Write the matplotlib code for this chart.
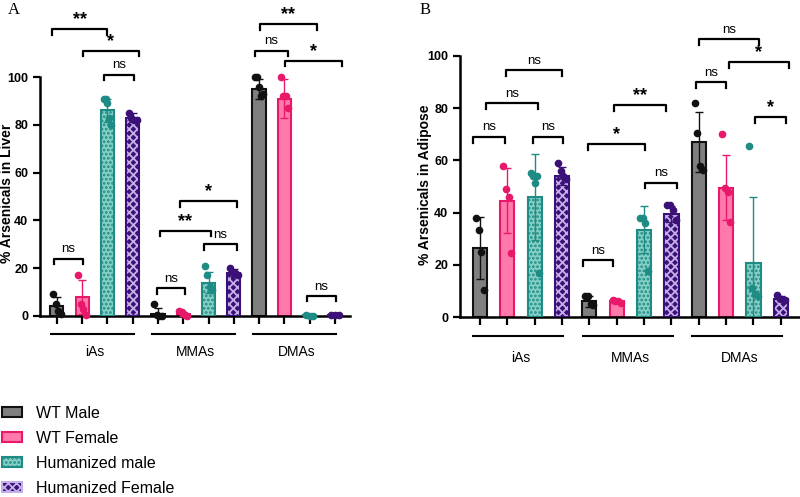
import numpy as np
import matplotlib
matplotlib.use("Agg")
import matplotlib.pyplot as plt
from matplotlib.patches import Patch

plt.rcParams['font.family'] = ['Liberation Sans', 'DejaVu Sans']
plt.rcParams['hatch.linewidth'] = 1.3

groups = ["iAs", "MMAs", "DMAs"]
series = ["WT Male", "WT Female", "Humanized male", "Humanized Female"]

# mean, sd and individual points per bar (group-major order)
liver_mean = [4, 8, 86, 83, 1, 1, 14, 18, 95, 91, 0.3, 0.4]
liver_sd = [4, 7, 5, 2, 2.5, 0.8, 4.5, 1.5, 4, 8, 0.2, 0.3]
liver_pts = [
    [9, 5, 2, 1], [17, 5, 3, 0.5], [91, 91, 89, 83, 80], [85, 83, 82, 82],
    [5, 0.5, 0, 0], [2, 1.5, 0.5, 0], [21, 17, 12, 11], [20, 18, 18, 17],
    [100, 100, 96, 92, 93], [100, 92, 92, 87], [0.3, 0.2, 0.1], [0.6, 0.5, 0.3],
]
adipose_mean = [26.5, 44.5, 46, 54, 6, 6, 33.5, 39.5, 67, 49.5, 20.5, 7]
adipose_sd = [12, 12.5, 16.5, 3.5, 2, 0.6, 9, 3, 11.5, 12.5, 25.5, 1]
adipose_pts = [
    [38, 33.5, 25, 10.5], [58, 49, 46, 24.5], [55, 54, 51.5, 54, 17], [59, 56, 54, 53],
    [8, 8, 5, 4.5], [6.5, 6, 6, 5.5], [38, 38, 36, 17.5], [43, 43, 41, 37],
    [82, 70.5, 58, 56.5], [70, 49.5, 48, 36.5], [65.5, 11, 9, 8], [8.5, 7, 6.5],
]

# significance brackets: (x1, x2, y, label)
liver_sig = [
    (-0.2, 2.0, 120, "**"), (1.03, 3.24, 111, "*"), (1.86, 3.04, 101, "ns"),
    (-0.12, 1.03, 24, "ns"), (4.86, 7.11, 48, "*"), (4.07, 6.09, 35.6, "**"),
    (5.81, 7.11, 30, "ns"), (3.95, 5.06, 11.7, "ns"), (8.02, 10.3, 122, "**"),
    (7.83, 9.13, 111, "ns"), (9.01, 11.27, 106.7, "*"), (9.88, 11.03, 8.4, "ns"),
]
adipose_sig = [
    (-0.26, 0.92, 69, "ns"), (1.94, 3.04, 69, "ns"), (0.22, 2.12, 82, "ns"),
    (0.95, 3.0, 94.6, "ns"), (3.96, 6.04, 66.3, "*"), (4.9, 6.81, 81.2, "**"),
    (6.04, 7.2, 51.5, "ns"), (3.77, 4.87, 21.8, "ns"), (7.99, 10.2, 106.5, "ns"),
    (9.12, 11.28, 97.7, "*"), (7.9, 9.0, 90, "ns"), (10.04, 11.2, 76.6, "*"),
]

face = ["#7f7f7f", "#ff7aab", "#86cfc6", "#3b1178"]
edge = ["#111111", "#e8196b", "#1e8c84", "#3b1178"]
hatch = [None, None, "....", "xxxx"]
hatch_col = [None, None, "#1e8c84", "#c4b0e8"]


def panel(ax, mean, sd, pts, sig, ylabel, xlim, ytop, tip, underline_y, label_y):
    x = np.arange(len(mean))
    for k in range(4):
        idx = x[k::4]
        m = np.array(mean)[k::4]
        s = np.array(sd)[k::4]
        if hatch[k]:
            ax.bar(idx, m, 0.52, color=face[k], edgecolor=hatch_col[k], hatch=hatch[k], lw=0, zorder=2)
            ax.bar(idx, m, 0.52, fill=False, edgecolor=edge[k], lw=1.5, zorder=3)
        else:
            ax.bar(idx, m, 0.52, color=face[k], edgecolor=edge[k], lw=1.5, zorder=2)
        ax.errorbar(idx, m, yerr=s, fmt="none", ecolor=edge[k], elinewidth=1, capsize=3, capthick=1, zorder=4)
        for i in idx:
            p = pts[i]
            off = np.linspace(-0.15, 0.15, len(p))
            ax.plot(i + off, p, "o", ms=4.5, color=edge[k], zorder=5, clip_on=False)
    for x1, x2, y, lab in sig:
        ax.plot([x1, x1, x2, x2], [y - tip, y, y, y - tip], color="black", lw=1.6, clip_on=False, zorder=6)
        if lab == "ns":
            ax.text((x1 + x2) / 2, y + tip * 0.6, lab, ha="center", va="bottom", fontsize=9.5)
        else:
            ax.text((x1 + x2) / 2, y + tip * 0.2, lab, ha="center", va="bottom",
                    fontsize=13, fontweight="bold")
    for g, name in enumerate(groups):
        x0 = g * 4
        ax.plot([x0 - 0.25, x0 + 3.05], [underline_y, underline_y], color="black", lw=1.5, clip_on=False)
        ax.text(x0 + 1.5, label_y, name, ha="center", va="center", fontsize=10)
    ax.set_xlim(*xlim)
    ax.set_ylim(0, ytop)
    ax.set_xticks(x)
    ax.set_xticklabels([])
    ax.set_yticks([0, 20, 40, 60, 80, 100])
    ax.tick_params(axis="y", labelsize=9, width=1.6, length=5)
    ax.tick_params(axis="x", width=1.6, length=6)
    for t in ax.get_yticklabels():
        t.set_fontweight("bold")
    for sp in ["top", "right"]:
        ax.spines[sp].set_visible(False)
    ax.spines["left"].set_linewidth(1.8)
    ax.spines["bottom"].set_linewidth(1.8)
    ax.spines["left"].set_bounds(0, 100)
    ax.set_ylabel(ylabel, fontsize=10, fontweight="bold")


fig = plt.figure(figsize=(8, 4.97), dpi=100)
axA = fig.add_axes([40 / 800, 1 - 316 / 497, 310 / 800, 306 / 497])
axB = fig.add_axes([460 / 800, 1 - 317 / 497, 340 / 800, 307 / 497])

panel(axA, liver_mean, liver_sd, liver_pts, liver_sig, "% Arsenicals in Liver",
      (-0.67, 11.6), 306 / 2.39, 2.3, -7.5, -15)
panel(axB, adipose_mean, adipose_sd, adipose_pts, adipose_sig, "% Arsenicals in Adipose",
      (-0.73, 11.7), 307 / 2.61, 2.2, -7.3, -15.7)
axA.yaxis.set_label_coords(-0.085, 0.4)
axB.yaxis.set_label_coords(-0.082, 0.43)

fig.text(8 / 800, 1 - 10 / 497, "A", family="Liberation Serif", fontsize=12, va="center")
fig.text(420 / 800, 1 - 10 / 497, "B", family="Liberation Serif", fontsize=12, va="center")

handles = [Patch(facecolor=face[k], edgecolor=(hatch_col[k] if hatch[k] else edge[k]),
                 hatch=hatch[k], lw=1.5) for k in range(4)]
fig.legend(handles, series, loc="upper left", bbox_to_anchor=(2 / 800, 1 - 406 / 497),
           frameon=False, fontsize=11.5, handlelength=1.25, handleheight=0.6,
           labelspacing=0.62, handletextpad=0.85, borderaxespad=0, borderpad=0)

fig.savefig("out.png", dpi=100)
